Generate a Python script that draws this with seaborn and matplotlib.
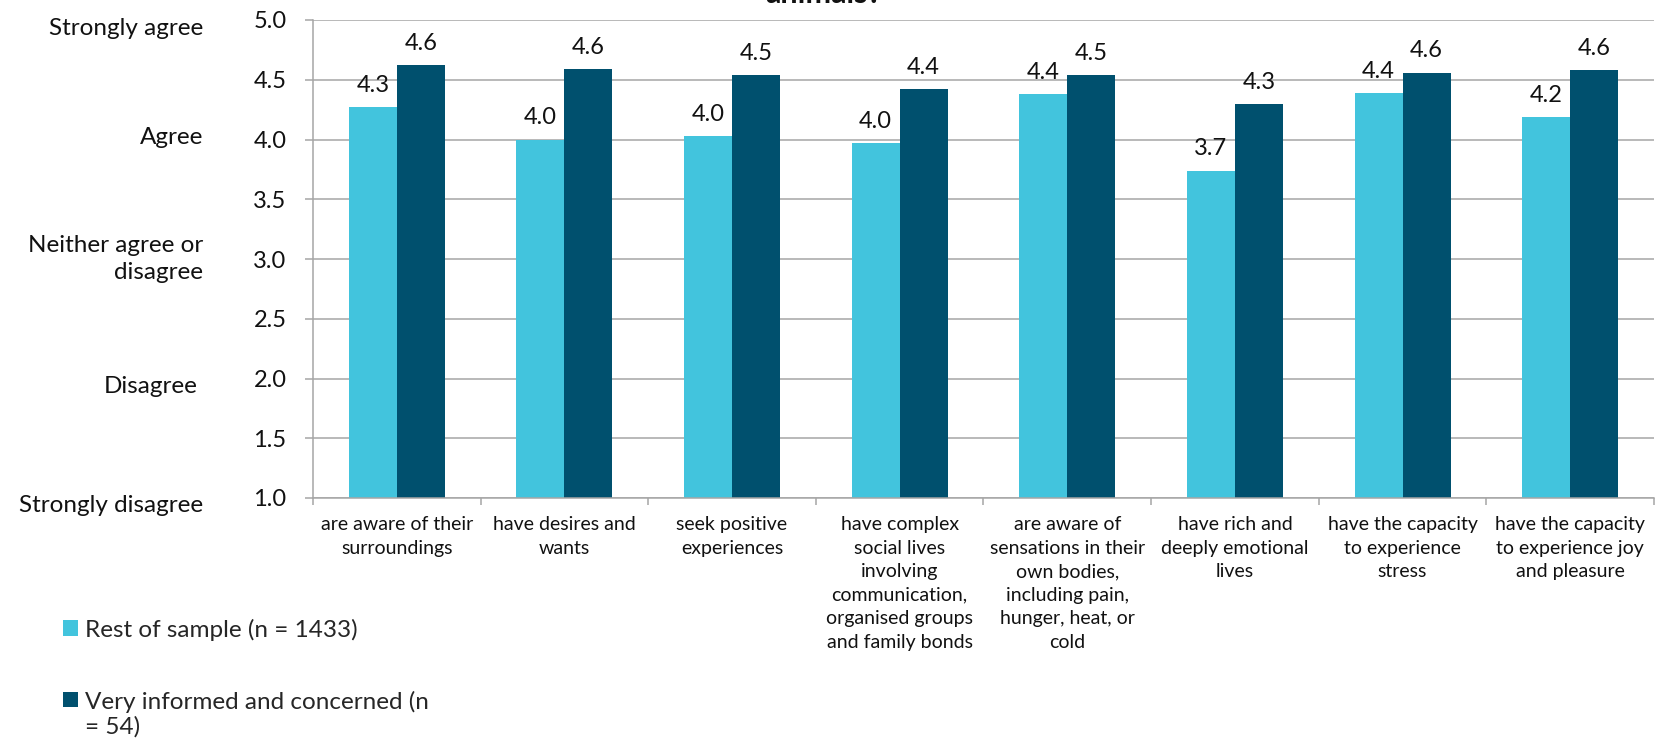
import matplotlib
matplotlib.use("Agg")
import matplotlib.pyplot as plt
import matplotlib.transforms as mtransforms
from matplotlib.patches import Patch, Rectangle
from matplotlib.legend_handler import HandlerPatch
import seaborn as sns
import pandas as pd
import numpy as np

categories = [
    "are aware of their\nsurroundings",
    "have desires and\nwants",
    "seek positive\nexperiences",
    "have complex\nsocial lives\ninvolving\ncommunication,\norganised groups\nand family bonds",
    "are aware of\nsensations in their\nown bodies,\nincluding pain,\nhunger, heat, or\ncold",
    "have rich and\ndeeply emotional\nlives",
    "have the capacity\nto experience\nstress",
    "have the capacity\nto experience joy\nand pleasure",
]
rest_of_sample = [4.27, 4.00, 4.03, 3.97, 4.38, 3.74, 4.39, 4.19]
very_informed = [4.62, 4.59, 4.54, 4.42, 4.54, 4.30, 4.56, 4.58]
series_names = ["Rest of sample (n = 1433)", "Very informed and concerned (n = 54)"]
legend_labels = ["Rest of sample (n = 1433)", "Very informed and concerned (n\n= 54)"]
y_ticks = [1.0, 1.5, 2.0, 2.5, 3.0, 3.5, 4.0, 4.5, 5.0]
scale_labels = ["Strongly agree", "Agree", "Neither agree or\ndisagree", "Disagree", "Strongly disagree"]
scale_positions = [4.93, 4.02, 3.0, 1.93, 0.94]
title_text = "animals?"

colors = ["#42C4DD", "#00506E"]
FS = 17
FS_TXT = 17.5

df = pd.DataFrame({
    "category": categories * 2,
    "value": rest_of_sample + very_informed,
    "series": [series_names[0]] * len(categories) + [series_names[1]] * len(categories),
})

sns.set_theme(style="white")
plt.rcParams["font.family"] = ["Lato", "DejaVu Sans"]

fig = plt.figure(figsize=(16.56, 7.47), dpi=100)
ax_left, ax_right, ax_top, ax_bottom = 313, 1654, 20, 498
ax = fig.add_axes([ax_left / 1656, 1 - ax_bottom / 747,
                   (ax_right - ax_left) / 1656, (ax_bottom - ax_top) / 747])

sns.barplot(data=df, x="category", y="value", hue="series", order=categories,
            hue_order=series_names, palette=colors, width=0.572, saturation=1,
            linewidth=0, ax=ax, legend=False, errorbar=None)

ax.set_ylim(1.0, 5.0)
ax.set_xlim(-0.5, len(categories) - 0.5)
ax.set_yticks(y_ticks)
ax.set_yticklabels([f"{v:.1f}" for v in y_ticks], fontsize=FS)
ax.yaxis.grid(True, color="#A6A6A6", linewidth=1.1)
ax.set_axisbelow(True)
ax.set_xlabel("")
ax.set_ylabel("")

for s in ["top", "right"]:
    ax.spines[s].set_visible(False)
for s in ["left", "bottom"]:
    ax.spines[s].set_visible(True)
    ax.spines[s].set_color("#A6A6A6")
    ax.spines[s].set_linewidth(1.1)

ax.tick_params(axis="y", which="major", left=True, length=6, width=1.1,
               color="#A6A6A6", pad=13, labelcolor="#111111")
ax.set_xticks(range(len(categories)))
ax.set_xticklabels(categories, fontsize=14, linespacing=1.47, color="#111111")
ax.tick_params(axis="x", which="major", length=0, pad=13)
ax.set_xticks(np.arange(-0.5, len(categories), 1.0), minor=True)
ax.tick_params(axis="x", which="minor", bottom=True, length=5, width=1.1, color="#A6A6A6")

for container in ax.containers:
    ax.bar_label(container, fmt="%.1f", padding=8, fontsize=FS, color="#111111")

trans = mtransforms.blended_transform_factory(fig.transFigure, ax.transData)
scale_x = [203, 203, 203, 198, 203]
for lab, pos, xr in zip(scale_labels, scale_positions, scale_x):
    ax.text(xr / 1656, pos, lab, transform=trans, ha="right", va="center",
            fontsize=FS_TXT, color="#111111", linespacing=1.37, clip_on=False)


class TopAlignedPatch(HandlerPatch):
    def create_artists(self, legend, orig_handle, xdescent, ydescent, width,
                       height, fontsize, trans):
        label = orig_handle.get_label() or ""
        nlines = max(1, label.count("\n") + 1)
        shift = (nlines - 1) * fontsize * 1.2 / 2.0
        p = Rectangle((-xdescent, -ydescent + shift), width, height,
                      facecolor=orig_handle.get_facecolor(), edgecolor="none")
        p.set_transform(trans)
        return [p]


handles = []
for c, lab in zip(colors, legend_labels):
    h = Patch(facecolor=c, edgecolor="none")
    h.set_label(lab)
    handles.append(h)

fig.legend(handles, legend_labels, loc="upper left",
           bbox_to_anchor=(53 / 1656, 1 - 609 / 747),
           frameon=False, fontsize=FS_TXT, handlelength=0.62, handleheight=0.62,
           handletextpad=0.29, labelspacing=2.05, borderaxespad=0,
           handler_map={Patch: TopAlignedPatch()})

fig.text(824 / 1656, 1 - 3 / 747, title_text, ha="center", va="baseline",
         fontsize=22, fontweight="bold", color="#111111")

fig.savefig("out.png", dpi=100)
